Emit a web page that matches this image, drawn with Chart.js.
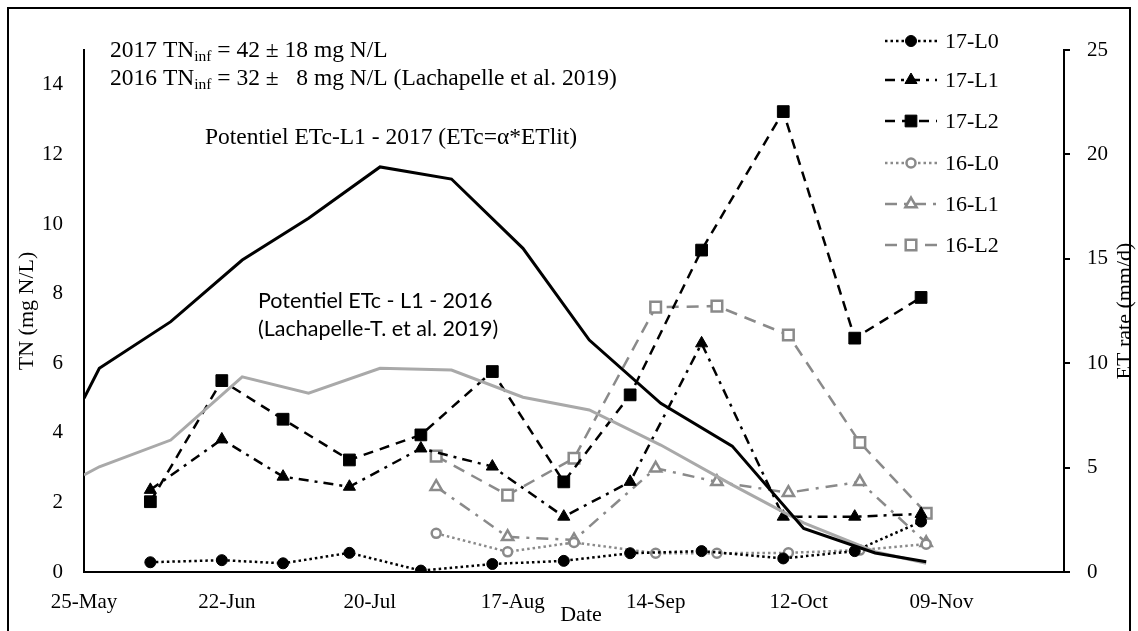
<!DOCTYPE html>
<html><head><meta charset="utf-8">
<script src="https://cdn.jsdelivr.net/npm/chart.js@4.4.1/dist/chart.umd.min.js"></script>
<style>html,body{margin:0;padding:0;background:#fff;}#wrap{width:1138px;height:631px;}</style>
</head><body><div id="wrap"><canvas id="c" width="1138" height="631"></canvas></div>
<script>
// ---- data (x = days after 25-May) ----
const xTickLabels = ['25-May','22-Jun','20-Jul','17-Aug','14-Sep','12-Oct','09-Nov'];
const days17 = [13,27,39,52,66,80,94,107,121,137,151,164];
const tn17L0 = [0.28,0.34,0.25,0.55,0.04,0.23,0.32,0.54,0.60,0.39,0.60,1.45];
const tn17L1 = [2.36,3.81,2.74,2.45,3.55,3.03,1.59,2.59,6.57,1.59,1.59,1.67];
const tn17L2 = [2.02,5.50,4.39,3.22,3.94,5.76,2.59,5.09,9.25,13.23,6.72,7.89];
const days16 = [69,83,96,112,124,138,152,165];
const tn16L0 = [1.11,0.58,0.85,0.54,0.54,0.55,0.63,0.80];
const tn16L1 = [2.45,1.01,0.92,2.98,2.59,2.28,2.59,0.84];
const tn16L2 = [3.33,2.21,3.27,7.61,7.64,6.81,3.72,1.69];
const etDays = [0,3,17,31,44,58,72,86,99,113,127,141,155,165];
const et2017 = [8.32,9.76,11.99,14.94,16.94,19.40,18.82,15.50,11.11,8.08,6.03,2.09,0.91,0.49];
const et2016 = [4.65,5.04,6.32,9.35,8.56,9.76,9.67,8.37,7.76,6.08,4.17,2.35,0.97,0.42];

const SERIF = "'Liberation Serif','Times New Roman',serif";
const SANS = "Lato,'Open Sans',sans-serif";
const GRAY = '#8a8a8a';
const LGRAY = '#a9a9a9';

function pts(xs, ys){ return xs.map((x,i)=>({x:x, y:ys[i]})); }

const series = [
  {label:'17-L0', xs:days17, ys:tn17L0, color:'#000', dash:[2.5,3], style:'circle', r:5.5, fill:'#000'},
  {label:'17-L1', xs:days17, ys:tn17L1, color:'#000', dash:[10,6,3,6], style:'triangle', r:7, fill:'#000'},
  {label:'17-L2', xs:days17, ys:tn17L2, color:'#000', dash:[10,7], style:'rect', r:8.3, fill:'#000'},
  {label:'16-L0', xs:days16, ys:tn16L0, color:GRAY, dash:[2.5,3], style:'circle', r:4.5, fill:'#fff'},
  {label:'16-L1', xs:days16, ys:tn16L1, color:GRAY, dash:[12,7,3,7], style:'triangle', r:6.5, fill:'#fff'},
  {label:'16-L2', xs:days16, ys:tn16L2, color:GRAY, dash:[12,8], style:'rect', r:7.5, fill:'#fff'}
];

const datasets = [
  {label:'ET2017', data:pts(etDays, et2017), yAxisID:'y2', borderColor:'#000', borderWidth:3, pointRadius:0, tension:0, fill:false},
  {label:'ET2016', data:pts(etDays, et2016), yAxisID:'y2', borderColor:LGRAY, borderWidth:3, pointRadius:0, tension:0, fill:false}
].concat(series.map(s=>({
  label:s.label, data:pts(s.xs, s.ys), yAxisID:'y', borderColor:s.color, borderWidth:2.5,
  borderDash:s.dash, pointStyle:s.style, pointRadius:s.r, pointBackgroundColor:s.fill,
  pointBorderColor:s.color, pointBorderWidth:(s.fill==='#fff'?2.5:1), tension:0, fill:false
})));

const annot = {
  id:'annot',
  beforeDraw(chart){ const c=chart.ctx; c.save(); c.fillStyle='#fff'; c.fillRect(0,0,chart.width,chart.height); c.restore(); },
  afterDraw(chart){
    const c = chart.ctx;
    c.save();
    // frame
    c.strokeStyle='#000'; c.lineWidth=2; c.strokeRect(8,8,1122,640);
    c.fillStyle='#000'; c.textBaseline='alphabetic'; c.textAlign='left';
    // TN inf lines
    function tnLine(x, y, a, b){
      c.font = '23.5px '+SERIF; c.fillText(a, x, y); let w = c.measureText(a).width;
      c.font = '15.5px '+SERIF; c.fillText('inf', x+w, y+4); w += c.measureText('inf').width;
      c.font = '23.5px '+SERIF; c.fillText(b, x+w, y);
    }
    tnLine(110, 57, '2017 TN', ' = 42 \u00b1 18 mg N/L');
    tnLine(110, 85, '2016 TN', ' = 32 \u00b1   8 mg N/L (Lachapelle et al. 2019)');
    c.font = '23.5px '+SERIF;
    c.fillText('Potentiel ETc-L1 - 2017 (ETc=\u03b1*ETlit)', 205, 144);
    c.font = '21.5px '+SANS;
    c.fillText('Potentiel ETc - L1 - 2016', 258, 308);
    c.fillText('(Lachapelle-T. et al. 2019)', 258, 336);
    // axis titles
    c.font = '22px '+SERIF; c.textAlign='center'; c.textBaseline='middle';
    c.save(); c.translate(27,311); c.rotate(-Math.PI/2); c.fillText('TN (mg N/L)',0,0); c.restore();
    c.save(); c.translate(1125,311); c.rotate(-Math.PI/2); c.fillText('ET rate (mm/d)',0,0); c.restore();
    c.fillText('Date', 581, 615);
    // legend
    const ys = [41,80,121,163,204,245];
    series.forEach((s,i)=>{
      const y = ys[i];
      c.save();
      c.strokeStyle=s.color; c.lineWidth=2.5; c.setLineDash(s.dash);
      c.beginPath(); c.moveTo(885,y); c.lineTo(937,y); c.stroke();
      c.setLineDash([]);
      c.fillStyle=s.fill; c.strokeStyle=s.color; c.lineWidth=(s.fill==='#fff'?2.5:1);
      Chart.helpers.drawPoint(c, {pointStyle:s.style, radius:s.r, rotation:0, borderWidth:c.lineWidth}, 911, y);
      c.restore();
      c.fillStyle='#000'; c.font='22px '+SERIF; c.textAlign='left'; c.textBaseline='middle';
      c.fillText(s.label, 945, y+1);
    });
    c.restore();
  }
};

new Chart(document.getElementById('c'), {
  type:'line',
  data:{datasets:datasets},
  plugins:[annot],
  options:{
    responsive:false, animation:false, devicePixelRatio:1,
    layout:{padding:{top:50,left:0,right:0,bottom:0}},
    plugins:{legend:{display:false}, tooltip:{enabled:false}},
    scales:{
      x:{type:'linear', min:0, max:192,
        afterFit:s=>{s.height=59;},
        afterBuildTicks:a=>{a.ticks=a.ticks.filter(t=>t.value%28===0 && t.value<=168);},
        ticks:{stepSize:28, color:'#000', padding:18, font:{family:SERIF,size:21},
          callback:v=>xTickLabels[Math.round(v/28)]},
        grid:{display:false, drawTicks:false},
        border:{display:true,color:'#000',width:2}},
      y:{type:'linear', position:'left', min:0, max:15,
        afterFit:s=>{s.width=84;},
        afterBuildTicks:a=>{a.ticks=a.ticks.filter(t=>t.value%2===0 && t.value<=14);},
        ticks:{stepSize:2, color:'#000', padding:21, font:{family:SERIF,size:21}},
        grid:{display:false, drawTicks:false},
        border:{display:true,color:'#000',width:2}},
      y2:{type:'linear', position:'right', min:0, max:25,
        afterFit:s=>{s.width=74;},
        ticks:{stepSize:5, color:'#000', padding:17, font:{family:SERIF,size:21}},
        grid:{display:true, drawOnChartArea:false, drawTicks:true, tickLength:6, color:'#000', lineWidth:2},
        border:{display:true,color:'#000',width:2}}
    }
  }
});
</script></body></html>
